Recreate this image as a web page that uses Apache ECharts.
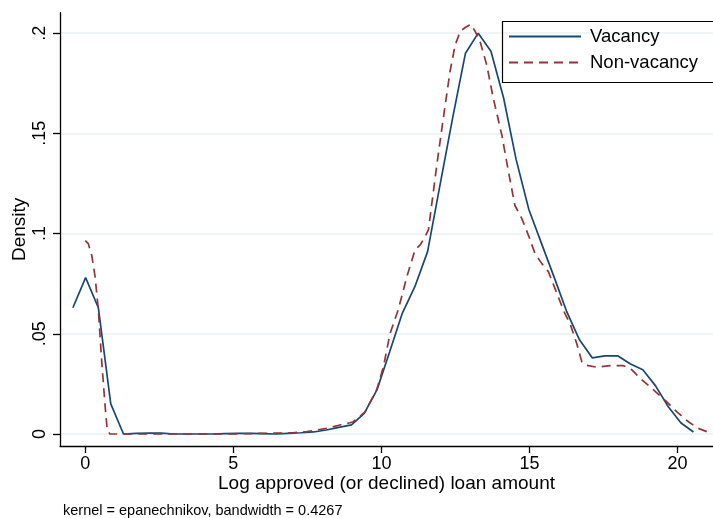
<!DOCTYPE html>
<html>
<head>
<meta charset="utf-8">
<script src="https://cdn.jsdelivr.net/npm/echarts@6/dist/echarts.min.js"></script>
<style>
html,body{margin:0;padding:0;background:#fff;}
#chart{width:713px;height:518px;}
</style>
</head>
<body>
<div id="chart"></div>
<script>
// ---- data ----
const vacancyX = [-0.42,0.01,0.44,0.86,1.29,1.72,2.15,2.57,3.00,3.43,3.86,4.29,4.71,5.14,5.57,6.00,6.42,6.85,7.28,7.71,8.14,8.56,8.99,9.42,9.85,10.28,10.70,11.13,11.56,11.99,12.41,12.84,13.27,13.70,14.13,14.55,14.98,15.41,15.84,16.26,16.69,17.12,17.55,17.98,18.40,18.83,19.26,19.69,20.12,20.54];
const vacancyY = [0.063,0.078,0.063,0.015,0.0,0.0003,0.0004,0.0004,0.0,0.0,0.0,0.0,0.0002,0.0003,0.0003,0.0002,0.0,0.0003,0.0006,0.001,0.002,0.0033,0.0045,0.0103,0.022,0.041,0.060,0.0735,0.091,0.125,0.158,0.190,0.200,0.191,0.1675,0.137,0.112,0.095,0.078,0.061,0.047,0.038,0.039,0.039,0.035,0.032,0.024,0.0136,0.0055,0.001];
const nonVacancyX = [0,0.10,0.22,0.33,0.44,0.55,0.67,0.74,0.83,1.5,3,5,6,7,7.48,8.16,8.6,8.94,9.05,9.45,9.84,10.07,10.29,10.57,10.86,11.14,11.31,11.48,11.59,11.87,12.09,12.32,12.49,12.66,12.83,13.02,13.17,13.33,13.56,13.78,14.07,14.29,14.51,14.74,14.97,15.19,15.42,15.64,15.93,16.2,16.37,16.6,16.77,16.88,17.28,17.72,18.18,18.46,18.8,19.19,19.64,19.98,20.37,20.7,21.0];
const nonVacancyY = [0.0965,0.095,0.089,0.0785,0.062,0.037,0.0136,0.002,0,0,0,0,0.0003,0.0006,0.0012,0.0028,0.0045,0.0056,0.0061,0.011,0.022,0.0336,0.050,0.062,0.0785,0.092,0.0943,0.0985,0.102,0.134,0.1575,0.181,0.194,0.2008,0.2028,0.2044,0.2008,0.196,0.184,0.1675,0.149,0.131,0.114,0.1076,0.099,0.090,0.085,0.081,0.070,0.060,0.0552,0.045,0.036,0.0344,0.0333,0.0341,0.0341,0.032,0.027,0.022,0.016,0.011,0.0061,0.0028,0.0011];
const xTicks = [0,5,10,15,20];
const yTicks = [0,0.05,0.1,0.15,0.2];
const yTickLabels = ['0','.05','.1','.15','.2'];
const seriesNames = ['Vacancy','Non-vacancy'];
const xTitle = 'Log approved (or declined) loan amount';
const yTitle = 'Density';
const noteText = 'kernel = epanechnikov, bandwidth = 0.4267';

const FONT = "'Liberation Sans', Arial, Helvetica, sans-serif";
const chart = echarts.init(document.getElementById('chart'), null, {renderer:'canvas'});
const pairs = (xs, ys) => xs.map((x,i)=>[x, ys[i]]);

chart.setOption({
  backgroundColor:'#ffffff',
  animation:false,
  textStyle:{fontFamily:FONT, color:'#000'},
  grid:{left:60, right:0, top:12.7, bottom:72, containLabel:false, outerBoundsMode:'none'},
  xAxis:{
    type:'value', min:-0.855, max:21.2,
    name:xTitle, nameLocation:'middle', nameGap:28, nameMoveOverlap:false,
    nameTextStyle:{fontSize:19, color:'#000', fontFamily:FONT},
    axisLine:{onZero:false, lineStyle:{color:'#000', width:1.3}},
    axisTick:{show:true, length:7, lineStyle:{color:'#000', width:1.3}, customValues:xTicks},
    axisLabel:{fontSize:18, color:'#000', margin:9, fontFamily:FONT, customValues:xTicks},
    splitLine:{show:false}
  },
  yAxis:{
    type:'value', min:-0.006, max:0.2102,
    name:yTitle, nameLocation:'middle', nameGap:31, nameMoveOverlap:false,
    nameTextStyle:{fontSize:19, color:'#000', fontFamily:FONT},
    axisLine:{show:true, onZero:false, lineStyle:{color:'#000', width:1.3}},
    axisTick:{show:true, length:7, lineStyle:{color:'#000', width:1.3}, customValues:yTicks},
    axisLabel:{fontSize:18, color:'#000', margin:11, rotate:90, fontFamily:FONT, customValues:yTicks,
      formatter:(v)=>{const i=yTicks.findIndex(t=>Math.abs(t-v)<1e-9);return i>=0?yTickLabels[i]:'';}},
    splitLine:{show:true, lineStyle:{color:'#eaf2f3', width:1.5}}
  },
  legend:{
    left:500, top:19, orient:'vertical',
    itemWidth:72, itemHeight:14, itemGap:7,
    padding:[8,10,7,8],
    borderWidth:0,
    itemStyle:{opacity:0},
    textStyle:{fontSize:18.5, color:'#000', fontFamily:FONT, padding:[0,0,0,4]},
    data:seriesNames
  },
  series:[
    {name:seriesNames[0], type:'line', data:pairs(vacancyX, vacancyY), showSymbol:false, symbol:'none', smooth:false,
     lineStyle:{color:'#1a476f', width:1.7}, itemStyle:{color:'#1a476f'}, z:3},
    {name:seriesNames[1], type:'line', data:pairs(nonVacancyX, nonVacancyY), showSymbol:false, symbol:'none', smooth:false,
     lineStyle:{color:'#90353b', width:1.7, type:[9,6]}, itemStyle:{color:'#90353b'}, z:4}
  ],
  graphic:[
    {type:'rect', left:500, top:19, z:10, silent:true,
     shape:{width:260, height:61}, style:{fill:'none', stroke:'#000', lineWidth:1.2}},
    {type:'text', left:63, top:503, style:{text:noteText, font:"14.5px 'Liberation Sans', Arial, sans-serif", fill:'#000'}}
  ]
});
</script>
</body>
</html>
